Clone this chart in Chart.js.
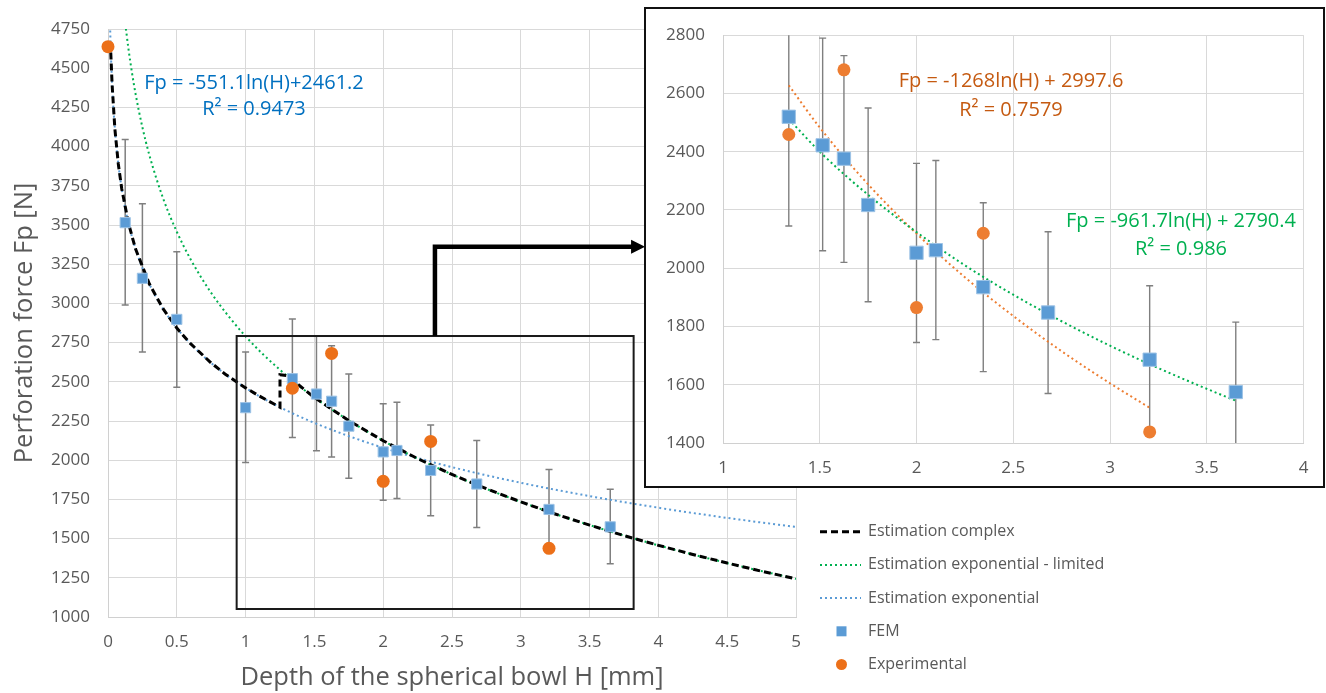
<!DOCTYPE html>
<html>
<head>
<meta charset="utf-8">
<script src="https://cdn.jsdelivr.net/npm/chart.js@4.4.0/dist/chart.umd.min.js"></script>
<style>
body { margin: 0; background: #fff; }
#wrap { position: relative; width: 1326px; height: 693px; }
#main { position: absolute; left: 0; top: 0; }
#zoom { position: absolute; left: 644px; top: 7px; }
</style>
</head>
<body>
<div id="wrap">
<canvas id="main" width="1326" height="693"></canvas>
<canvas id="zoom" width="681" height="481"></canvas>
</div>
<script>
// FEM results with error bars (low / high ends of the bar)
var femH    = [0.125, 0.25, 0.5, 1.0, 1.34, 1.515, 1.625, 1.75, 2.0, 2.1, 2.345, 2.68, 3.205, 3.65];
var femFp   = [3515, 3160, 2898, 2335, 2520, 2422, 2376, 2217, 2053, 2062, 1935, 1848, 1686, 1575];
var femLow  = [2990, 2690, 2465, 1985, 2145, 2060, 2020, 1885, 1745, 1755, 1645, 1570, 1435, 1340];
var femHigh = [4045, 3635, 3330, 2690, 2900, 2790, 2730, 2550, 2360, 2370, 2225, 2125, 1940, 1815];

// experiments
var expH  = [0, 1.34, 1.625, 2.0, 2.345, 3.205];
var expFp = [4637, 2459, 2681, 1865, 2120, 1438];

// curves
var complexH  = [0.02, 0.03, 0.05, 0.075, 0.1, 0.15, 0.2, 0.3, 0.4, 0.5, 0.6, 0.75, 0.85, 1.0, 1.1, 1.25, 1.25, 1.3, 1.5, 1.75, 2, 2.25, 2.5, 2.75, 3, 3.25, 3.5, 3.75, 4, 4.25, 4.5, 4.75, 5];
var complexFp = [4600, 4394, 4112, 3889, 3730, 3507, 3348, 3125, 2966, 2843, 2743, 2620, 2550, 2461, 2409, 2338, 2545, 2540, 2400, 2252, 2124, 2010, 1909, 1818, 1734, 1657, 1586, 1519, 1457, 1399, 1344, 1292, 1243];

var limitedH  = [0.13, 0.15, 0.175, 0.2, 0.25, 0.3, 0.4, 0.5, 0.6, 0.75, 1.0, 1.25, 1.5, 2, 2.5, 3, 3.5, 4, 4.5, 5];
var limitedFp = [4752, 4615, 4467, 4338, 4123, 3948, 3671, 3457, 3282, 3067, 2790, 2576, 2400, 2124, 1909, 1734, 1586, 1457, 1344, 1243];

var expoH  = [0.016, 0.02, 0.03, 0.04, 0.05, 0.065, 0.075, 0.1, 0.125, 0.15, 0.2, 0.3, 0.4, 0.5, 0.6, 0.75, 1.0, 1.25, 1.5, 2, 2.5, 3, 3.5, 4, 4.5, 5];
var expoFp = [4740, 4617, 4394, 4235, 4112, 3967, 3889, 3730, 3607, 3507, 3348, 3125, 2966, 2843, 2743, 2620, 2461, 2338, 2238, 2079, 1956, 1856, 1771, 1697, 1632, 1574];

// curves of the zoomed chart
var zoomFemFitH  = [1.34, 1.5, 1.75, 2, 2.25, 2.5, 2.75, 3, 3.25, 3.5, 3.65];
var zoomFemFitFp = [2512, 2400, 2252, 2124, 2010, 1909, 1818, 1734, 1657, 1586, 1545];
var zoomExpFitH  = [1.34, 1.5, 1.75, 2, 2.25, 2.5, 2.75, 3, 3.205];
var zoomExpFitFp = [2628, 2483, 2288, 2119, 1969, 1836, 1715, 1605, 1521];

var xTitle = 'Depth of the spherical bowl H [mm]';
var yTitle = 'Perforation force Fp [N]';
var blueEq = ['Fp = -551.1ln(H)+2461.2', 'R\u00b2 = 0.9473'];
var orangeEq = ['Fp = -1268ln(H) + 2997.6', 'R\u00b2 = 0.7579'];
var greenEq = ['Fp = -961.7ln(H) + 2790.4', 'R\u00b2 = 0.986'];

var FONT = "'Open Sans', sans-serif";
var GREY = '#595959';
var BLUE = '#5b9bd5';
var ORANGE = '#ec7019';
var GREEN = '#00b050';

Chart.defaults.font.family = FONT;

function pts(xs, ys) {
    var out = [];
    for (var i = 0; i < xs.length; i++) out.push({x: xs[i], y: ys[i]});
    return out;
}

function errorBars(xs, lo, hi, cap, lw) {
    return {
        id: 'errorBars',
        beforeDatasetsDraw: function(chart) {
            var ctx = chart.ctx, a = chart.chartArea;
            var sx = chart.scales.x, sy = chart.scales.y;
            ctx.save();
            ctx.beginPath();
            ctx.rect(a.left, a.top, a.right - a.left, a.bottom - a.top);
            ctx.clip();
            ctx.strokeStyle = '#7f7f7f';
            ctx.lineWidth = lw;
            for (var i = 0; i < xs.length; i++) {
                var px = sx.getPixelForValue(xs[i]);
                var y1 = sy.getPixelForValue(lo[i]);
                var y2 = sy.getPixelForValue(hi[i]);
                ctx.beginPath();
                ctx.moveTo(px, y1); ctx.lineTo(px, y2);
                ctx.moveTo(px - cap, y1); ctx.lineTo(px + cap, y1);
                ctx.moveTo(px - cap, y2); ctx.lineTo(px + cap, y2);
                ctx.stroke();
            }
            ctx.restore();
        }
    };
}

function axisOpts(min, max, step, pad) {
    return {
        type: 'linear', min: min, max: max,
        ticks: {stepSize: step, color: GREY, font: {size: 17}, padding: pad,
                callback: function(v) { return String(v); }},
        grid: {color: '#d9d9d9', drawTicks: false},
        border: {color: '#d0d0d0'}
    };
}

// ---------- main chart ----------
var mainX = axisOpts(0, 5, 0.5, 15);
mainX.title = {display: true, text: xTitle, color: GREY, font: {size: 25.5}, padding: {top: 0, bottom: 0}};
mainX.afterFit = function(s) { s.height = 76; };
var mainY = axisOpts(1000, 4750, 250, 18);
mainY.title = {display: true, text: yTitle, color: GREY, font: {size: 25.5}, padding: {top: 9, bottom: 0}};
mainY.afterFit = function(s) { s.width = 108; };

var mainExtras = {
    id: 'mainExtras',
    afterDraw: function(chart) {
        var ctx = chart.ctx, sx = chart.scales.x, sy = chart.scales.y;
        ctx.save();
        // zoom rectangle
        var l = sx.getPixelForValue(0.935), r = sx.getPixelForValue(3.82);
        var t = sy.getPixelForValue(2792), b = sy.getPixelForValue(1051);
        ctx.strokeStyle = '#1a1a1a';
        ctx.lineWidth = 2;
        ctx.strokeRect(l, t, r - l, b - t);
        // arrow to the zoomed chart
        var ax = sx.getPixelForValue(2.376), ay = sy.getPixelForValue(3362);
        var tip = sx.getPixelForValue(3.903);
        ctx.strokeStyle = '#000';
        ctx.lineWidth = 4.5;
        ctx.beginPath();
        ctx.moveTo(ax, t);
        ctx.lineTo(ax, ay);
        ctx.lineTo(tip - 12, ay);
        ctx.stroke();
        ctx.fillStyle = '#000';
        ctx.beginPath();
        ctx.moveTo(tip - 14, ay - 7);
        ctx.lineTo(tip, ay);
        ctx.lineTo(tip - 14, ay + 7);
        ctx.closePath();
        ctx.fill();
        // trend equation
        ctx.fillStyle = '#0070c0';
        ctx.font = '20px ' + FONT;
        ctx.textAlign = 'center';
        ctx.textBaseline = 'middle';
        ctx.fillText(blueEq[0], 254, 83);
        ctx.fillText(blueEq[1], 254, 109);
        // legend
        var order = [2, 3, 4, 1, 0];
        ctx.font = '16px ' + FONT;
        ctx.textAlign = 'left';
        for (var i = 0; i < order.length; i++) {
            var ds = chart.data.datasets[order[i]];
            var y = 531.7 + i * 33.2;
            if (ds.showLine) {
                ctx.strokeStyle = ds.borderColor;
                ctx.lineWidth = ds.borderWidth;
                ctx.setLineDash(ds.borderDash);
                ctx.beginPath();
                ctx.moveTo(820, y);
                ctx.lineTo(861, y);
                ctx.stroke();
                ctx.setLineDash([]);
            } else if (ds.pointStyle === 'rect') {
                ctx.fillStyle = ds.backgroundColor;
                ctx.fillRect(836.5, y - 5, 10, 10);
            } else {
                ctx.fillStyle = ds.backgroundColor;
                ctx.beginPath();
                ctx.arc(841.5, y, 5.5, 0, Math.PI * 2);
                ctx.fill();
            }
            ctx.fillStyle = GREY;
            ctx.fillText(ds.label, 868, y);
        }
        ctx.restore();
    }
};

new Chart(document.getElementById('main').getContext('2d'), {
    type: 'scatter',
    data: {
        datasets: [{
            label: 'Experimental',
            data: pts(expH, expFp),
            pointStyle: 'circle', pointRadius: 6.5,
            backgroundColor: ORANGE, borderColor: ORANGE, borderWidth: 0,
            clip: false
        }, {
            label: 'FEM',
            data: pts(femH, femFp),
            pointStyle: 'rect', pointRadius: 7.2,
            backgroundColor: BLUE, borderColor: '#9dc3e6', borderWidth: 1
        }, {
            label: 'Estimation complex',
            data: pts(complexH, complexFp),
            showLine: true, pointRadius: 0,
            borderColor: '#000', backgroundColor: '#000', borderWidth: 3,
            borderDash: [7, 4]
        }, {
            label: 'Estimation exponential - limited',
            data: pts(limitedH, limitedFp),
            showLine: true, pointRadius: 0, cubicInterpolationMode: 'monotone',
            borderColor: GREEN, backgroundColor: GREEN, borderWidth: 2,
            borderDash: [2, 3]
        }, {
            label: 'Estimation exponential',
            data: pts(expoH, expoFp),
            showLine: true, pointRadius: 0, cubicInterpolationMode: 'monotone',
            borderColor: BLUE, backgroundColor: BLUE, borderWidth: 2,
            borderDash: [2, 3]
        }]
    },
    options: {
        responsive: false,
        animation: false,
        layout: {padding: {top: 29, right: 530, left: 0, bottom: 0}},
        plugins: {legend: {display: false}, tooltip: {enabled: false}},
        scales: {x: mainX, y: mainY}
    },
    plugins: [errorBars(femH, femLow, femHigh, 3.5, 1.5), mainExtras]
});

// ---------- zoomed chart ----------
var zoomX = axisOpts(1, 4, 0.5, 15);
zoomX.afterFit = function(s) { s.height = 45; };
var zoomY = axisOpts(1400, 2800, 200, 18);
zoomY.afterFit = function(s) { s.width = 79; };

var zoomExtras = {
    id: 'zoomExtras',
    beforeDraw: function(chart) {
        var ctx = chart.ctx;
        ctx.save();
        ctx.fillStyle = '#fff';
        ctx.fillRect(0, 0, chart.width, chart.height);
        ctx.restore();
    },
    afterDraw: function(chart) {
        var ctx = chart.ctx;
        ctx.save();
        ctx.font = '20px ' + FONT;
        ctx.textAlign = 'center';
        ctx.textBaseline = 'middle';
        ctx.fillStyle = '#c55a11';
        ctx.fillText(orangeEq[0], 1011 - 644, 81.7 - 7);
        ctx.fillText(orangeEq[1], 1011 - 644, 110 - 7);
        ctx.fillStyle = GREEN;
        ctx.fillText(greenEq[0], 1181 - 644, 221.7 - 7);
        ctx.fillText(greenEq[1], 1181 - 644, 249.3 - 7);
        ctx.strokeStyle = '#111';
        ctx.lineWidth = 2;
        ctx.strokeRect(1, 1, chart.width - 2, chart.height - 2);
        ctx.restore();
    }
};

new Chart(document.getElementById('zoom').getContext('2d'), {
    type: 'scatter',
    data: {
        datasets: [{
            label: 'Experimental',
            data: pts(expH.slice(1), expFp.slice(1)),
            pointStyle: 'circle', pointRadius: 6.5,
            backgroundColor: '#ed7d31', borderColor: '#ed7d31', borderWidth: 0
        }, {
            label: 'FEM',
            data: pts(femH.slice(4), femFp.slice(4)),
            pointStyle: 'rect', pointRadius: 9.4,
            backgroundColor: BLUE, borderColor: '#9dc3e6', borderWidth: 1
        }, {
            label: 'FEM fit',
            data: pts(zoomFemFitH, zoomFemFitFp),
            showLine: true, pointRadius: 0, cubicInterpolationMode: 'monotone',
            borderColor: GREEN, borderWidth: 2, borderDash: [2, 3]
        }, {
            label: 'Experimental fit',
            data: pts(zoomExpFitH, zoomExpFitFp),
            showLine: true, pointRadius: 0, cubicInterpolationMode: 'monotone',
            borderColor: '#ed7d31', borderWidth: 2, borderDash: [2, 3]
        }]
    },
    options: {
        responsive: false,
        animation: false,
        layout: {padding: {top: 28, right: 21.5, left: 0, bottom: 0}},
        plugins: {legend: {display: false}, tooltip: {enabled: false}},
        scales: {x: zoomX, y: zoomY}
    },
    plugins: [errorBars(femH.slice(4), femLow.slice(4), femHigh.slice(4), 3.5, 1.4), zoomExtras]
});
</script>
</body>
</html>
